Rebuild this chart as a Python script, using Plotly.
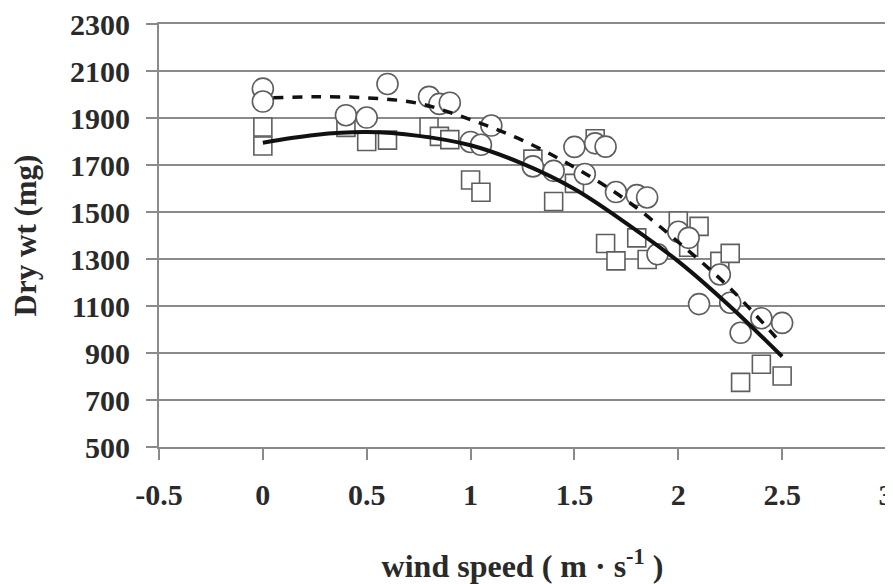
import plotly.graph_objects as go

# Circles (open circles series)
circle_x = [0, 0, 0.4, 0.5, 0.6, 0.8, 0.85, 0.9, 1.0, 1.05, 1.1, 1.3, 1.4, 1.5, 1.55, 1.6, 1.65,
            1.7, 1.8, 1.85, 1.9, 2.0, 2.05, 2.1, 2.2, 2.25, 2.3, 2.4, 2.5]
circle_y = [2025, 1970, 1912, 1902, 2045, 1990, 1960, 1965, 1798, 1786, 1868, 1694, 1675, 1777, 1662, 1792, 1778,
            1585, 1572, 1562, 1320, 1416, 1390, 1108, 1234, 1114, 986, 1048, 1028]

# Squares (open squares series)
square_x = [0, 0, 0.4, 0.5, 0.6, 0.8, 0.85, 0.9, 1.0, 1.05, 1.3, 1.4, 1.5, 1.6, 1.65, 1.7, 1.8, 1.85,
            2.0, 2.05, 2.1, 2.2, 2.25, 2.3, 2.4, 2.5]
square_y = [1862, 1781, 1860, 1800, 1806, 1862, 1822, 1808, 1636, 1584, 1725, 1545, 1622, 1812, 1366, 1292, 1390, 1298,
            1462, 1350, 1439, 1290, 1324, 775, 852, 802]

# Trend lines
solid_x = [0, 0.25, 0.5, 0.75, 1.0, 1.25, 1.5, 1.75, 2.0, 2.25, 2.5]
solid_y = [1795, 1828, 1840, 1824, 1784, 1706, 1598, 1452, 1290, 1098, 885]
dash_x = [0.05, 0.25, 0.5, 0.75, 1.0, 1.25, 1.5, 1.75, 2.0, 2.25, 2.5]
dash_y = [1986, 1990, 1986, 1962, 1893, 1805, 1690, 1550, 1372, 1175, 937]

x_ticks = [-0.5, 0, 0.5, 1, 1.5, 2, 2.5, 3]
x_ticktext = ["-0.5", "0", "0.5", "1", "1.5", "2", "2.5", "3"]
y_ticks = [500, 700, 900, 1100, 1300, 1500, 1700, 1900, 2100, 2300]

FONT = "Liberation Serif, Times New Roman, serif"
GRID = "#8a8a8a"
MK_LINE = "#5e5e5e"
TXT = "#2a2a2a"
TICK_SIZE = 30

fig = go.Figure()
fig.add_trace(go.Scatter(
    x=square_x, y=square_y, mode="markers",
    marker=dict(symbol="square", size=18, color="white", line=dict(color=MK_LINE, width=1.6)),
    showlegend=False, cliponaxis=False))
fig.add_trace(go.Scatter(
    x=circle_x, y=circle_y, mode="markers",
    marker=dict(symbol="circle", size=21, color="white", line=dict(color=MK_LINE, width=1.6)),
    showlegend=False, cliponaxis=False))
fig.add_trace(go.Scatter(
    x=dash_x, y=dash_y, mode="lines",
    line=dict(color="#111111", width=3.5, dash="10px,9px", shape="spline"),
    showlegend=False))
fig.add_trace(go.Scatter(
    x=solid_x, y=solid_y, mode="lines",
    line=dict(color="#111111", width=4, shape="spline"),
    showlegend=False))

# page body adds an 8px margin, so the figure is 8px smaller than the window
fig.update_layout(
    width=885, height=576,
    margin=dict(l=151, r=7, t=16, b=137),
    paper_bgcolor="white", plot_bgcolor="white",
    font=dict(family=FONT, color=TXT, size=TICK_SIZE, weight="bold"),
)
fig.update_xaxes(
    range=[-0.5, 3], tickvals=x_ticks, ticktext=x_ticktext,
    showgrid=False, zeroline=False, automargin=False,
    showline=True, linecolor=GRID, linewidth=2, mirror=True,
    ticks="outside", ticklen=11, tickwidth=2, tickcolor=GRID,
    ticklabelstandoff=9, ticklabeloverflow="allow",
    tickfont=dict(family=FONT, size=TICK_SIZE, weight="bold", color=TXT),
    title=dict(text="wind speed ( m · s<sup>-1</sup> )", standoff=45,
               font=dict(family=FONT, size=32, weight="bold", color=TXT)),
)
fig.update_yaxes(
    range=[500, 2300], tickvals=y_ticks,
    showgrid=True, gridcolor=GRID, gridwidth=2, zeroline=False, automargin=False,
    showline=True, linecolor=GRID, linewidth=2, mirror=True,
    ticks="outside", ticklen=11, tickwidth=2, tickcolor=GRID,
    ticklabelstandoff=10, ticklabeloverflow="allow",
    tickfont=dict(family=FONT, size=TICK_SIZE, weight="bold", color=TXT),
    title=dict(text="Dry wt (mg)", standoff=27,
               font=dict(family=FONT, size=31, weight="bold", color=TXT)),
)

fig.write_html("out.html")
